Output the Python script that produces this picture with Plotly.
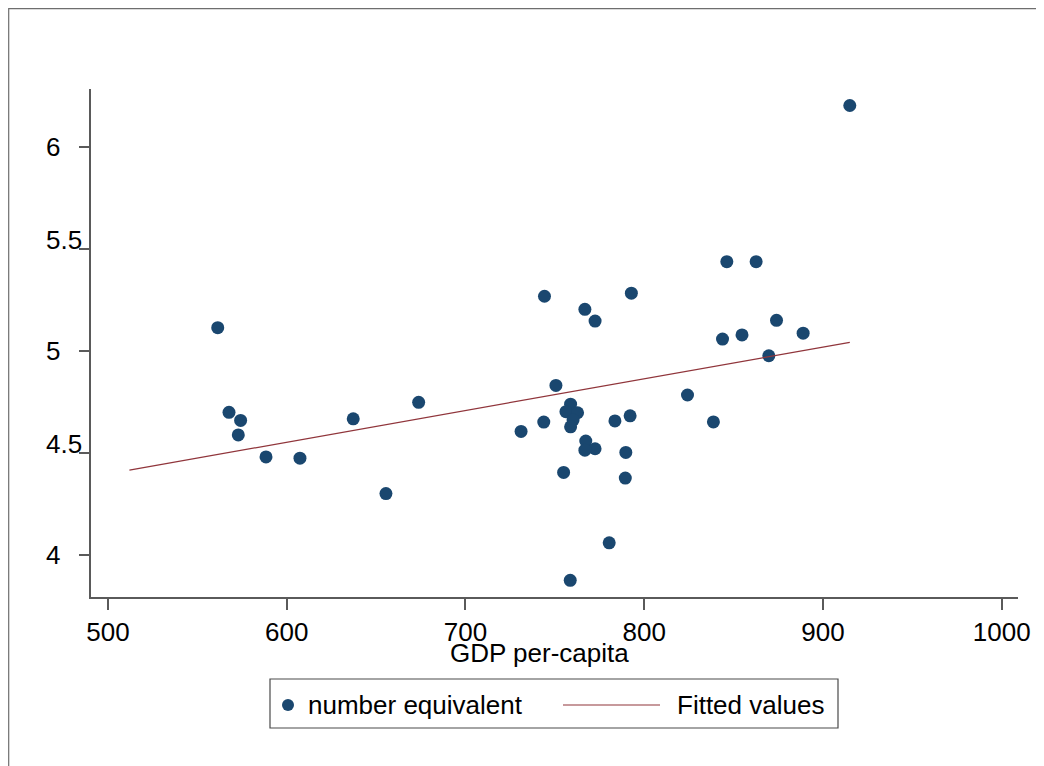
import plotly.graph_objects as go

# ---- data ----
gdp = [561.4, 567.7, 574.2, 572.9, 588.4, 607.4, 637.2, 673.8, 655.5,
       744.2, 792.8, 766.8, 772.5, 750.6, 824.2, 758.8, 756.2, 762.7,
       760.2, 758.8, 743.8, 783.6, 792.1, 731.1, 767.3, 772.5, 766.8,
       789.7, 754.9, 789.4, 780.4, 758.6, 915.0, 846.2, 862.6, 874.0,
       843.8, 854.7, 888.9, 869.7, 838.7]
number_equiv = [5.115, 4.699, 4.659, 4.588, 4.480, 4.474, 4.667, 4.748, 4.300,
                5.269, 5.284, 5.205, 5.147, 4.831, 4.784, 4.739, 4.702, 4.697,
                4.661, 4.628, 4.651, 4.657, 4.682, 4.605, 4.558, 4.520, 4.513,
                4.502, 4.404, 4.376, 4.058, 3.874, 6.206, 5.439, 5.439, 5.151,
                5.059, 5.079, 5.088, 4.977, 4.652]
fit_x = [512.0, 915.0]
fit_y = [4.415, 5.043]

x_ticks = [500, 600, 700, 800, 900, 1000]
x_tick_labels = ["500", "600", "700", "800", "900", "1000"]
y_ticks = [4, 4.5, 5, 5.5, 6]
y_tick_labels = ["4", "4.5", "5", "5.5", "6"]

series_names = ["number equivalent", "Fitted values"]
x_title = "GDP per-capita"

# ---- styling ----
OFF = 8  # page body margin
W, H = 1044 - OFF, 766 - OFF
ML, MT = 91 - OFF, 89 - OFF
MR = W - (1018 - OFF)
MB = H - (597 - OFF)
PW, PH = W - ML - MR, H - MT - MB
FONT = "Liberation Sans, Arial, sans-serif"
FS = 26
NAVY = "#1a476f"
MAROON = "#90353b"
AXIS = "#5a5a5a"


def px2x(px):
    """reference-window pixel x -> paper coordinate"""
    return (px - OFF - ML) / PW


def py2y(py):
    """reference-window pixel y -> paper coordinate"""
    return (H - MB - (py - OFF)) / PH


fig = go.Figure()
fig.add_trace(go.Scatter(x=gdp, y=number_equiv, mode="markers", name=series_names[0],
                         marker=dict(color=NAVY, size=13, line=dict(width=0)),
                         showlegend=False))
fig.add_trace(go.Scatter(x=fit_x, y=fit_y, mode="lines", name=series_names[1],
                         line=dict(color=MAROON, width=1.2), showlegend=False))

fig.update_xaxes(range=[490.5, 1009.1], tickvals=x_ticks, ticktext=x_tick_labels,
                 showline=True, linecolor=AXIS, linewidth=1.5, ticks="outside",
                 ticklen=11, tickwidth=1.5, tickcolor=AXIS, showgrid=False, zeroline=False,
                 tickfont=dict(family=FONT, size=FS, color="black"))
fig.update_yaxes(range=[3.792, 6.287], tickvals=y_ticks, showticklabels=False,
                 showline=True, linecolor=AXIS, linewidth=1.5, ticks="outside",
                 ticklen=10, tickwidth=1.5, tickcolor=AXIS, showgrid=False, zeroline=False)

annotations = []
for v, t in zip(y_ticks, y_tick_labels):
    shift = 9 if "." in t else 0
    annotations.append(dict(x=px2x(44), xref="paper", y=v, yref="y", text=t,
                            xanchor="left", yanchor="middle", yshift=shift,
                            showarrow=False, font=dict(family=FONT, size=FS, color="black")))
annotations.append(dict(x=px2x(539), xref="paper", y=py2y(653), yref="paper", text=x_title,
                        xanchor="center", yanchor="middle", showarrow=False,
                        font=dict(family=FONT, size=FS, color="black")))
# legend texts
ly = py2y(705)
annotations.append(dict(x=px2x(306), xref="paper", y=ly, yref="paper", text=series_names[0],
                        xanchor="left", yanchor="middle", showarrow=False,
                        font=dict(family=FONT, size=FS, color="black")))
annotations.append(dict(x=px2x(675), xref="paper", y=ly, yref="paper", text=series_names[1],
                        xanchor="left", yanchor="middle", showarrow=False,
                        font=dict(family=FONT, size=FS, color="black")))

shapes = [
    # outer graph frame (cropped at right/bottom)
    dict(type="rect", xref="paper", yref="paper", x0=px2x(8.7), x1=px2x(1200),
         y0=py2y(1000), y1=py2y(8.7), line=dict(color="#6e6e6e", width=1.2),
         fillcolor="rgba(0,0,0,0)", layer="below"),
    # legend box
    dict(type="rect", xref="paper", yref="paper", x0=px2x(270), x1=px2x(838),
         y0=py2y(728), y1=py2y(679), line=dict(color="#4a4a4a", width=1.2),
         fillcolor="white"),
    # legend marker
    dict(type="circle", xref="paper", yref="paper", x0=px2x(282), x1=px2x(294),
         y0=py2y(711), y1=py2y(699), line=dict(color=NAVY, width=0), fillcolor=NAVY),
    # legend line sample
    dict(type="line", xref="paper", yref="paper", x0=px2x(563), x1=px2x(660),
         y0=ly, y1=ly, line=dict(color=MAROON, width=1.2)),
]

fig.update_layout(width=W, height=H, margin=dict(l=ML, r=MR, t=MT, b=MB, autoexpand=False),
                  paper_bgcolor="white", plot_bgcolor="white", showlegend=False,
                  font=dict(family=FONT, size=FS, color="black"),
                  annotations=annotations, shapes=shapes)

fig.write_html("out.html")
